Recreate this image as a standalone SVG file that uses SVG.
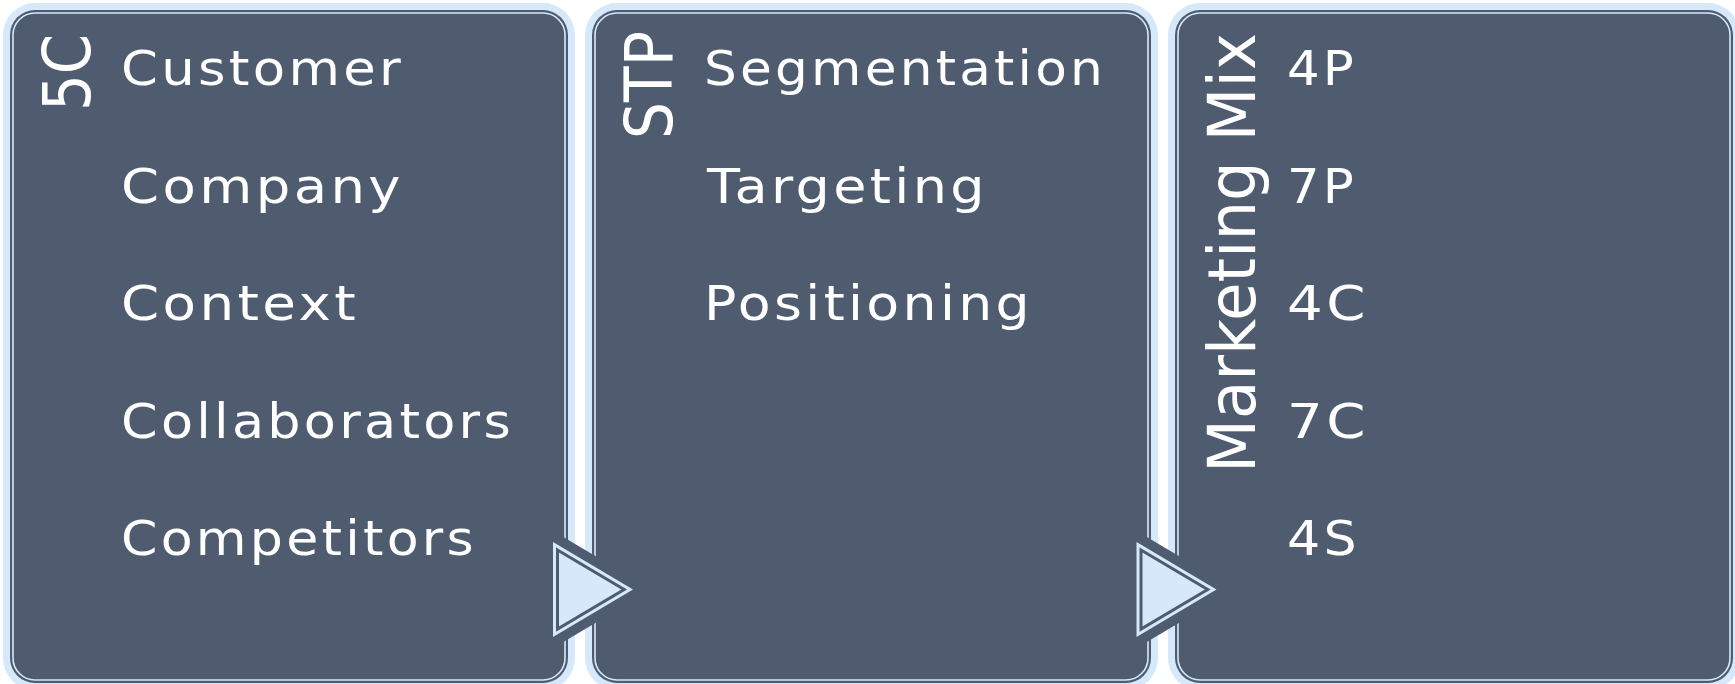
<svg xmlns="http://www.w3.org/2000/svg" width="1735" height="684" viewBox="0 0 1735 684">
  <style>
    .band { fill: #d5e9fb; }
    .panel { fill: #4f5b6e; }
    .inner { fill: none; stroke: #d5e9fb; stroke-width: 1.6; }
    .item { font-family: "DejaVu Sans", "Noto Sans", sans-serif; font-size: 48px; letter-spacing: 3px; fill: #ffffff; }
    .title { font-family: "DejaVu Sans", "Noto Sans", sans-serif; font-size: 65px; fill: #ffffff; }
    .arrow-halo { fill: #4f5b6e; stroke: #4f5b6e; stroke-width: 19; stroke-linejoin: round; }
    .arrow-body { fill: #d5e9fb; }
    .arrow-line { fill: none; stroke: #4f5b6e; stroke-width: 3; stroke-linejoin: miter; }
  </style>

  <rect width="1735" height="684" fill="#ffffff"/>

  <!-- 5C panel -->
  <g id="node-5c">
    <rect class="band" x="3" y="3" width="572" height="687" rx="32"/>
    <rect class="panel" x="10" y="10" width="558" height="673" rx="25"/>
    <rect class="inner" x="13" y="13" width="552" height="667" rx="22"/>
    <text class="title" transform="translate(90,111) rotate(-90)" textLength="77" lengthAdjust="spacingAndGlyphs">5C</text>
    <text class="item" x="121" y="85" textLength="283" lengthAdjust="spacingAndGlyphs">Customer</text>
    <text class="item" x="121" y="202.5" textLength="283" lengthAdjust="spacingAndGlyphs">Company</text>
    <text class="item" x="121" y="320" textLength="238" lengthAdjust="spacingAndGlyphs">Context</text>
    <text class="item" x="121" y="437.5" textLength="393" lengthAdjust="spacingAndGlyphs">Collaborators</text>
    <text class="item" x="121" y="555" textLength="356" lengthAdjust="spacingAndGlyphs">Competitors</text>
  </g>

  <!-- STP panel -->
  <g id="node-stp">
    <rect class="band" x="585" y="3" width="573" height="687" rx="32"/>
    <rect class="panel" x="592" y="10" width="559" height="673" rx="25"/>
    <rect class="inner" x="595" y="13" width="553" height="667" rx="22"/>
    <text class="title" transform="translate(672,139) rotate(-90)" textLength="108" lengthAdjust="spacingAndGlyphs">STP</text>
    <text class="item" x="704" y="85" textLength="402" lengthAdjust="spacingAndGlyphs">Segmentation</text>
    <text class="item" x="707" y="202.5" textLength="281" lengthAdjust="spacingAndGlyphs">Targeting</text>
    <text class="item" x="704" y="320" textLength="329" lengthAdjust="spacingAndGlyphs">Positioning</text>
  </g>

  <!-- Marketing Mix panel -->
  <g id="node-marketing-mix">
    <rect class="band" x="1168" y="3" width="572" height="687" rx="32"/>
    <rect class="panel" x="1175" y="10" width="558" height="673" rx="25"/>
    <rect class="inner" x="1178" y="13" width="552" height="667" rx="22"/>
    <text class="title" transform="translate(1255,473) rotate(-90)" textLength="440" lengthAdjust="spacingAndGlyphs">Marketing Mix</text>
    <text class="item" x="1287" y="85" textLength="70" lengthAdjust="spacingAndGlyphs">4P</text>
    <text class="item" x="1287" y="202.5" textLength="70" lengthAdjust="spacingAndGlyphs">7P</text>
    <text class="item" x="1287" y="320" textLength="82" lengthAdjust="spacingAndGlyphs">4C</text>
    <text class="item" x="1287" y="437.5" textLength="82" lengthAdjust="spacingAndGlyphs">7C</text>
    <text class="item" x="1287" y="555" textLength="73" lengthAdjust="spacingAndGlyphs">4S</text>
  </g>

  <!-- flow arrows between panels -->
  <g id="connectors">
    <g id="arrow-5c-stp">
      <polygon class="arrow-halo" points="553,542 633,589.5 553,637"/>
      <polygon class="arrow-body" points="553,542 633,589.5 553,637"/>
      <polygon class="arrow-line" points="557.5,550 624.2,589.5 557.5,629"/>
    </g>
    <g id="arrow-stp-mix" transform="translate(583.5,0)">
      <polygon class="arrow-halo" points="553,542 633,589.5 553,637"/>
      <polygon class="arrow-body" points="553,542 633,589.5 553,637"/>
      <polygon class="arrow-line" points="557.5,550 624.2,589.5 557.5,629"/>
    </g>
  </g>
</svg>
